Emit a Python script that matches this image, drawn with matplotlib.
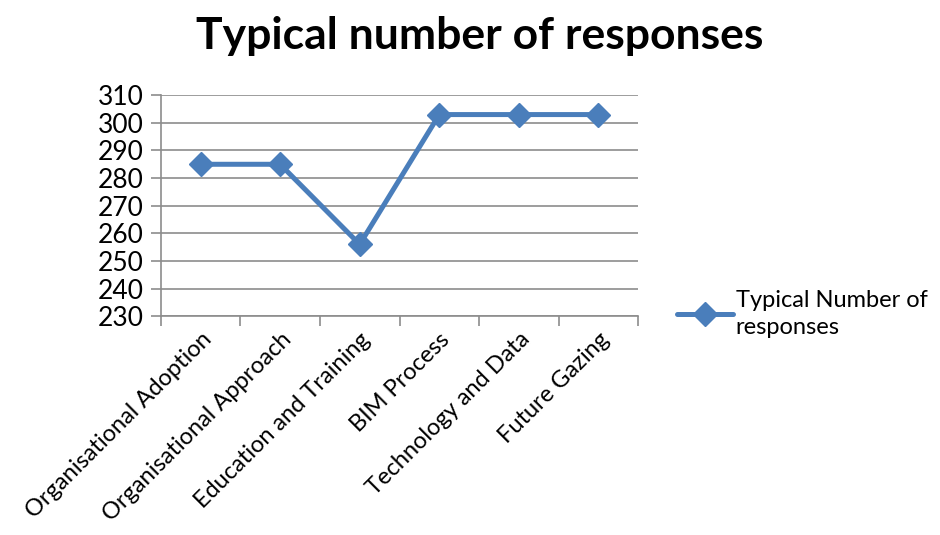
import matplotlib.pyplot as plt
import numpy as np

plt.rcParams['font.family'] = ['Lato', 'DejaVu Sans']

categories = ["Organisational Adoption", "Organisational Approach", "Education and Training",
              "BIM Process", "Technology and Data", "Future Gazing"]
values = [285, 285, 256, 303, 303, 303]
series_name = "Typical Number of\nresponses"

line_color = "#4a7ebb"
grid_color = "#8c8c8c"

fig = plt.figure(figsize=(9.4, 5.35), dpi=100)
ax = fig.add_axes([0.171, 0.409, 0.508, 0.413])

x = np.arange(len(categories))
ax.plot(x, values, color=line_color, lw=3.6, marker='D', markersize=12,
        label=series_name, solid_capstyle='round')

ax.set_xlim(-0.5, len(categories) - 0.5)
ax.set_ylim(230, 310)
ax.set_yticks(np.arange(230, 311, 10))
ax.yaxis.grid(True, color=grid_color, lw=1.2)
ax.set_axisbelow(True)

# ticks between categories, labels at the centres
ax.set_xticks(np.arange(-0.5, len(categories), 1.0))
ax.set_xticklabels([])
ax.set_xticks(x, minor=True)
ax.set_xticklabels(categories, minor=True, rotation=45, ha='right',
                   rotation_mode='anchor', fontsize=17)
ax.tick_params(axis='x', which='minor', length=0, pad=9)
ax.tick_params(axis='x', which='major', length=7, color=grid_color, width=1.2)
ax.tick_params(axis='y', length=7, color=grid_color, width=1.2, labelsize=19, pad=5)

for side in ['top', 'right']:
    ax.spines[side].set_visible(False)
for side in ['left', 'bottom']:
    ax.spines[side].set_color(grid_color)
    ax.spines[side].set_linewidth(1.2)

fig.text(0.51, 0.933, "Typical number of responses", fontsize=32, fontweight='bold',
         ha='center', va='center')

leg = fig.legend(loc='center left', bbox_to_anchor=(0.72, 0.413), frameon=False,
                 fontsize=17, handlelength=2.4, handletextpad=0.1,
                 borderpad=0, borderaxespad=0, labelspacing=0.3)
leg.get_texts()[0].set_linespacing(1.3)

fig.savefig("out.png", dpi=100)
